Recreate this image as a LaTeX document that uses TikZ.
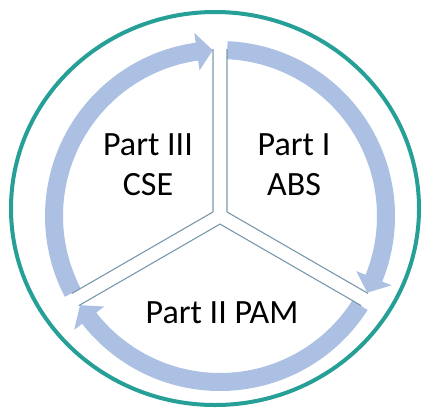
\documentclass[tikz,border=0pt]{standalone}
\usepackage{fontspec}
\setmainfont{Carlito}
\definecolor{bandblue}{RGB}{171,192,226}
\definecolor{divgray}{RGB}{122,152,172}
\definecolor{rimteal}{RGB}{38,160,150}
\tikzstyle{band}=[fill=bandblue]
\tikzstyle{divider}=[draw=divgray,line width=1.1pt]
\tikzstyle{rim}=[draw=rimteal,line width=4pt]
\tikzstyle{part}=[font=\fontsize{34}{40}\selectfont,align=center,inner sep=0pt]

\begin{document}
\begin{tikzpicture}[x=1pt,y=1pt]
    \useasboundingbox (-220,-192) rectangle (202,216);
    % The outer ring
    \draw[rim] (-5,7.5) ellipse [x radius=204, y radius=196.5];

    % Three arrows running clockwise
    \foreach \s/\e/\t in {87.5/-22/-27.5, -32.5/-142/-147.5, 207.5/98/92.5}
        \fill[band] (\s:175) arc[start angle=\s, end angle=\e, radius=175]
            -- (\e:185) -- (\t:166) -- (\e:147) -- (\e:157)
            arc[start angle=\e, end angle=\s, radius=157] -- cycle;

    % Inner corners and outer ends of the dividing lines
    \foreach \pos/\name in {{(30:8.083)}/jr, {(150:8.083)}/jl, {(270:8.083)}/jb,
            {(-7,167)}/tl, {(7,167)}/tr,
            {(148.12,-77.44)}/ru, {(141.12,-89.56)}/rd,
            {(-148.12,-77.44)}/lu, {(-141.12,-89.56)}/ld}
        \path \pos coordinate (\name);

    % Connect them
    \foreach \source/\dest in {jl/tl, jr/tr, jr/ru, jb/rd, jb/ld, jl/lu}
        \path[divider] (\source) -- (\dest);

    % Labels
    \node[part] (p3) at (-72,51) {Part III\\CSE};
    \node[part] (p1) at (74,51) {Part I\\ABS};
    \node[part,anchor=base] (p2) at (2,-107) {Part II PAM};
\end{tikzpicture}
\end{document}
